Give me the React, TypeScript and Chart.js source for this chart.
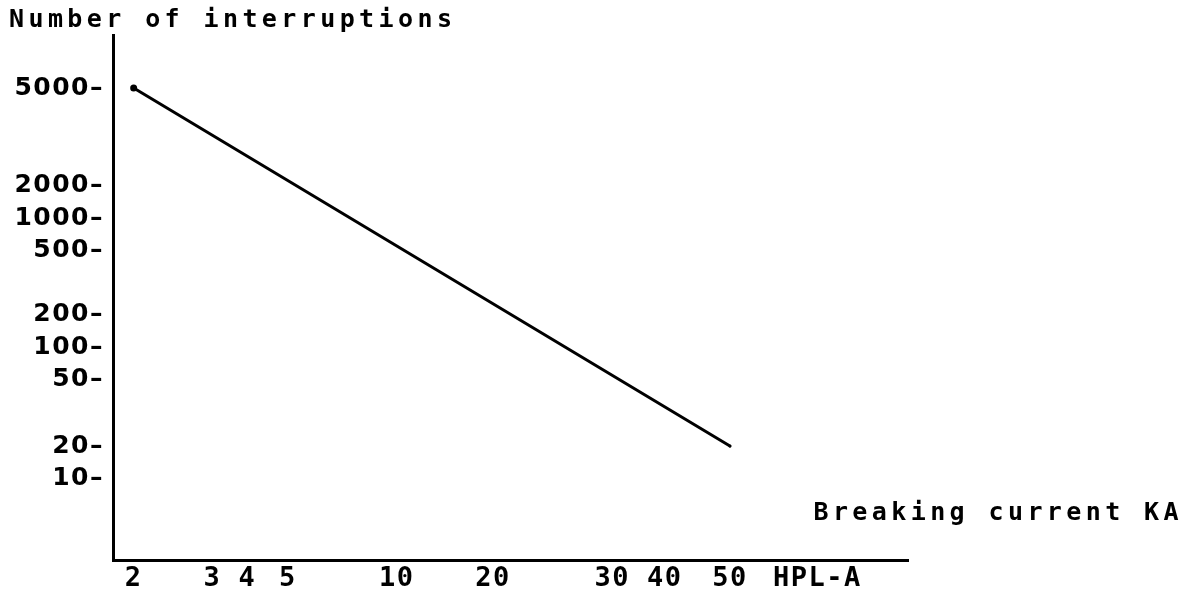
import React, { useEffect, useRef } from 'react';
import { Chart, LinearScale, registerables } from 'chart.js';

// ---- data ----
const BREAKING_CURRENT_KA = [2, 50];
const INTERRUPTIONS = [5000, 20];

// ---- axis ticks (hand-typed, non-uniform axis) ----
const X_TICK_VALUES = [2, 3, 4, 5, 10, 20, 30, 40, 50, 60];
const X_TICK_LABELS = ['2', '3', '4', '5', '10', '20', '30', '40', '50', 'HPL-A'];
const Y_TICK_VALUES = [10, 20, 50, 100, 200, 500, 1000, 2000, 5000];
const Y_TICK_LABELS = ['10–', '20–', '50–', '100–', '200–', '500–', '1000–', '2000–', '5000–'];

const Y_TITLE = 'Number of interruptions';
const X_TITLE = 'Breaking current KA';

// relative placement of each typed tick along its axis (layout, not data)
const AXIS_STOPS: Record<string, { values: number[]; pos: number[] }> = {
  x: { values: X_TICK_VALUES, pos: [0.026, 0.125, 0.169, 0.22, 0.357, 0.478, 0.628, 0.694, 0.776, 0.886] },
  y: { values: Y_TICK_VALUES, pos: [0.156, 0.217, 0.343, 0.404, 0.467, 0.59, 0.651, 0.714, 0.899] },
};

class PiecewiseScale extends LinearScale {
  static id = 'piecewise';
  static defaults = LinearScale.defaults;

  stops() {
    return AXIS_STOPS[(this as any).id];
  }
  determineDataLimits() {
    const s = this.stops();
    (this as any).min = s.values[0];
    (this as any).max = s.values[s.values.length - 1];
  }
  buildTicks() {
    return this.stops().values.map((value) => ({ value }));
  }
  valueToDecimal(value: number) {
    const { values, pos } = this.stops();
    let i = 0;
    while (i < values.length - 2 && value > values[i + 1]) i++;
    const t = (value - values[i]) / (values[i + 1] - values[i]);
    return pos[i] + t * (pos[i + 1] - pos[i]);
  }
  getPixelForValue(value: number) {
    if (value === null || value === undefined || isNaN(value)) return NaN;
    return this.getPixelForDecimal(this.valueToDecimal(value));
  }
  getValueForPixel(pixel: number) {
    const dec = this.getDecimalForPixel(pixel);
    const { values, pos } = this.stops();
    let i = 0;
    while (i < pos.length - 2 && dec > pos[i + 1]) i++;
    const t = (dec - pos[i]) / (pos[i + 1] - pos[i]);
    return values[i] + t * (values[i + 1] - values[i]);
  }
}

Chart.register(...registerables, PiecewiseScale);

const SPACING = '1.5px';

const typewriterPlugin = {
  id: 'typewriter',
  beforeUpdate(chart: any) {
    chart.ctx.letterSpacing = SPACING;
  },
  beforeLayout(chart: any) {
    chart.ctx.letterSpacing = SPACING;
  },
  beforeDraw(chart: any) {
    chart.ctx.letterSpacing = SPACING;
  },
  afterDraw(chart: any) {
    const ctx = chart.ctx;
    const area = chart.chartArea;
    ctx.save();
    ctx.letterSpacing = '4.4px';
    ctx.font = 'bold 25px "DejaVu Sans Mono"';
    ctx.fillStyle = '#000';
    ctx.textBaseline = 'middle';
    ctx.textAlign = 'left';
    ctx.fillText(Y_TITLE, 9, area.top - 15);
    ctx.textAlign = 'right';
    ctx.fillText(X_TITLE, chart.width - 6, area.bottom - 47);
    ctx.restore();
  },
};

export default function App() {
  const ref = useRef<HTMLCanvasElement | null>(null);

  useEffect(() => {
    document.body.style.margin = '0';
    const canvas = ref.current!;
    const chart = new Chart(canvas, {
      type: 'line',
      data: {
        datasets: [
          {
            data: BREAKING_CURRENT_KA.map((x, i) => ({ x, y: INTERRUPTIONS[i] })),
            borderColor: '#000',
            backgroundColor: '#000',
            borderWidth: 3,
            borderCapStyle: 'round',
            pointRadius: [3.5, 1.5],
            pointBackgroundColor: '#000',
            pointBorderWidth: 0,
            fill: false,
          },
        ],
      },
      options: {
        responsive: false,
        animation: false,
        layout: { padding: { top: 35, right: 281, left: 0, bottom: 0 } },
        plugins: { legend: { display: false }, tooltip: { enabled: false } },
        scales: {
          x: {
            type: 'piecewise' as any,
            grid: { display: false, drawTicks: false },
            border: { display: true, color: '#000', width: 3 },
            ticks: {
              autoSkip: false,
              maxRotation: 0,
              minRotation: 0,
              padding: 3,
              color: '#000',
              font: { family: '"DejaVu Sans Mono"', weight: 'bold', size: 27 },
              callback: (_v: any, i: number) => X_TICK_LABELS[i],
            },
            afterFit: (s: any) => {
              s.height = 32;
            },
          },
          y: {
            type: 'piecewise' as any,
            grid: { display: false, drawTicks: false },
            border: { display: true, color: '#000', width: 3 },
            ticks: {
              autoSkip: false,
              padding: 9,
              color: '#000',
              font: { family: '"DejaVu Sans"', weight: 'bold', size: 25 },
              callback: (_v: any, i: number) => Y_TICK_LABELS[i],
            },
            afterFit: (s: any) => {
              s.width = 113;
            },
          },
        },
      } as any,
      plugins: [typewriterPlugin],
    });
    return () => chart.destroy();
  }, []);

  return <canvas ref={ref} width={1189} height={592} style={{ display: 'block' }} />;
}
